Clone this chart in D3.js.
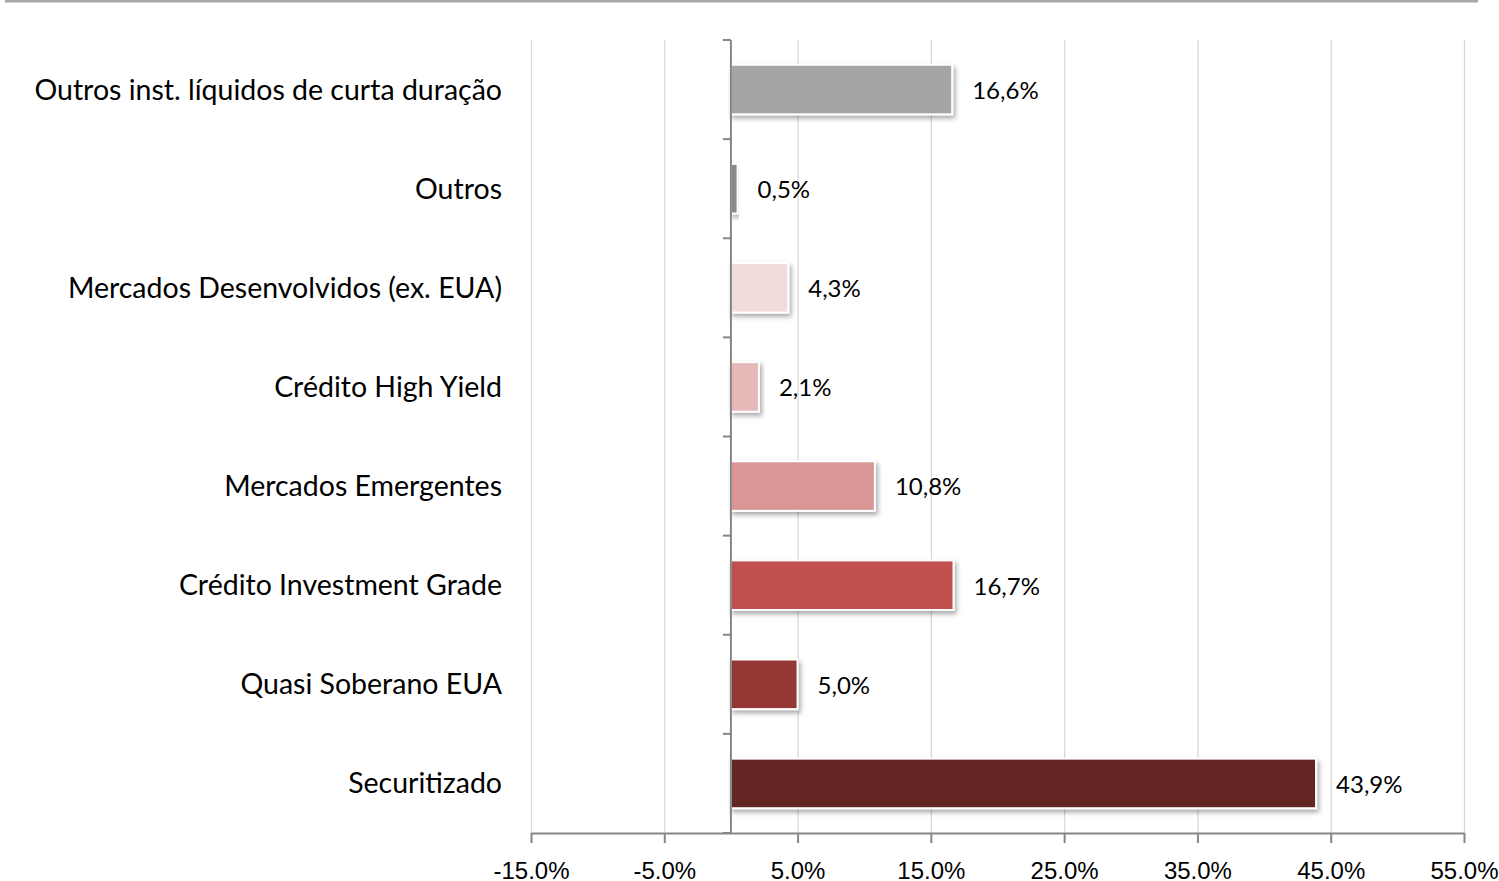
<!DOCTYPE html>
<html lang="pt">
<head>
    <meta charset="UTF-8">
    <title>Alocação por segmento</title>
    <script src="https://d3js.org/d3.v7.min.js"></script>
    <style>
        body { margin: 0; background: #fff; }
        svg { display: block; font-family: Lato, "Open Sans", sans-serif; }
        .grid line { stroke: #d9d9d9; stroke-width: 1.3; }
        .grid path { display: none; }
        .axis path, .axis line { stroke: #868686; stroke-width: 2; }
        .axis text { font-size: 24px; fill: #000; }
        .cat { font-size: 28.5px; fill: #000; }
        .val { font-size: 24px; fill: #000; }
    </style>
</head>
<body>
    <div id="chart"></div>
    <script>
        // categories from top to bottom
        const categories = [
            "Outros inst. líquidos de curta duração",
            "Outros",
            "Mercados Desenvolvidos (ex. EUA)",
            "Crédito High Yield",
            "Mercados Emergentes",
            "Crédito Investment Grade",
            "Quasi Soberano EUA",
            "Securitizado"
        ];
        const values = [16.6, 0.5, 4.3, 2.1, 10.8, 16.7, 5.0, 43.9];
        const colors = ["#a5a5a5", "#8a8a8a", "#f2dcdb", "#e6b9b8", "#d99694", "#c0504d", "#953735", "#632523"];
        const tickValues = [-15, -5, 5, 15, 25, 35, 45, 55];

        const width = 1499, height = 881;
        const svg = d3.select("#chart").append("svg")
            .attr("width", width)
            .attr("height", height);

        const defs = svg.append("defs");
        const shadow = defs.append("filter").attr("id", "shadow")
            .attr("x", "-10%").attr("y", "-30%").attr("width", "130%").attr("height", "170%");
        shadow.append("feDropShadow")
            .attr("dx", 2).attr("dy", 3).attr("stdDeviation", 2.5)
            .attr("flood-color", "#000").attr("flood-opacity", 0.35);

        // top rule
        svg.append("line")
            .attr("x1", 5).attr("x2", 1478)
            .attr("y1", 1).attr("y2", 1)
            .attr("stroke", "#a6a6a6").attr("stroke-width", 3);

        const plotTop = 40, plotBottom = 833;

        const x = d3.scaleLinear().domain([-15, 55]).range([531, 1464]);
        const y = d3.scaleBand().domain(categories).range([plotTop, plotBottom]).paddingInner(0.5).paddingOuter(0.25);

        // vertical gridlines
        svg.append("g")
            .attr("class", "grid")
            .attr("transform", `translate(0, ${plotBottom})`)
            .call(d3.axisBottom(x).tickValues(tickValues).tickSize(-(plotBottom - plotTop)).tickFormat(""));

        // bars
        svg.selectAll("rect.bar")
            .data(values)
            .enter()
            .append("rect")
            .attr("class", "bar")
            .attr("x", x(0))
            .attr("y", (d, i) => y(categories[i]))
            .attr("width", d => x(d) - x(0))
            .attr("height", y.bandwidth())
            .attr("fill", (d, i) => colors[i])
            .attr("stroke", "#fff")
            .attr("stroke-width", 2)
            .attr("filter", "url(#shadow)");

        // value labels
        svg.selectAll("text.val")
            .data(values)
            .enter()
            .append("text")
            .attr("class", "val")
            .attr("x", d => x(d) + 20)
            .attr("y", (d, i) => y(categories[i]) + y.bandwidth() / 2 + 1)
            .attr("dy", "0.35em")
            .text(d => d.toFixed(1).replace(".", ",") + "%");

        // category labels
        svg.selectAll("text.cat")
            .data(categories)
            .enter()
            .append("text")
            .attr("class", "cat")
            .attr("x", 502)
            .attr("y", d => y(d) + y.bandwidth() / 2)
            .attr("dy", "0.35em")
            .attr("text-anchor", "end")
            .text(d => d);

        // x axis
        const xAxis = svg.append("g")
            .attr("class", "axis")
            .attr("transform", `translate(0, ${plotBottom})`)
            .call(d3.axisBottom(x).tickValues(tickValues).tickSize(10).tickSizeOuter(0)
                .tickFormat(d => d.toFixed(1) + "%"));
        xAxis.selectAll("text").attr("y", 29);

        // zero axis with category boundary ticks
        const yTicks = d3.range(categories.length + 1).map(i => plotTop + i * (plotBottom - plotTop) / categories.length);
        const zeroAxis = svg.append("g").attr("class", "axis");
        zeroAxis.append("line")
            .attr("x1", x(0)).attr("x2", x(0))
            .attr("y1", plotTop).attr("y2", plotBottom);
        zeroAxis.selectAll("line.tk")
            .data(yTicks)
            .enter()
            .append("line")
            .attr("class", "tk")
            .attr("x1", x(0) - 8).attr("x2", x(0))
            .attr("y1", d => d).attr("y2", d => d);
    </script>
</body>
</html>
